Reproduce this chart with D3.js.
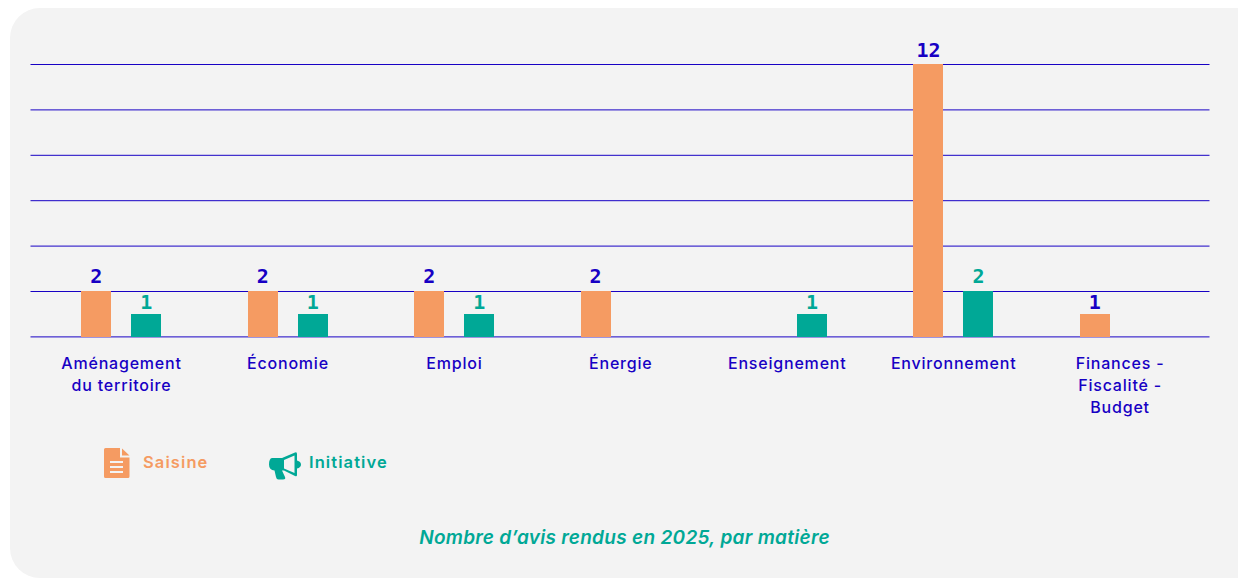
<!DOCTYPE html>
<html>
<head>
<meta charset="utf-8">
<script src="https://cdn.jsdelivr.net/npm/d3@7"></script>
<style>
  html, body { margin: 0; padding: 0; background: #fff; }
  svg { display: block; }
  text { font-family: Inter, sans-serif; }
</style>
</head>
<body>
<div id="chart-area"></div>
<script>
const categories = ["Aménagement du territoire", "Économie", "Emploi", "Énergie", "Enseignement", "Environnement", "Finances - Fiscalité - Budget"]
const categoryLines = [["Aménagement", "du territoire"], ["Économie"], ["Emploi"], ["Énergie"], ["Enseignement"], ["Environnement"], ["Finances -", "Fiscalité -", "Budget"]]
const seriesNames = ["Saisine", "Initiative"]
const saisine = [2, 2, 2, 2, 0, 12, 1]
const initiative = [1, 1, 1, 0, 1, 2, 0]
const gridTicks = [0, 2, 4, 6, 8, 10, 12]
const chartTitle = "Nombre d’avis rendus en 2025, par matière"

const blue = "#1700C4"
const orange = "#F59B62"
const teal = "#00A896"
const panel = "#F3F3F3"
const seriesColors = { Saisine: orange, Initiative: teal }
const seriesValues = { Saisine: saisine, Initiative: initiative }

const width = 1238
const height = 578

const svg = d3.select("#chart-area").append("svg")
  .attr("width", width)
  .attr("height", height)

svg.append("rect")
  .attr("x", 10)
  .attr("y", 8)
  .attr("width", width - 10 + 30)
  .attr("height", height - 8)
  .attr("rx", 30)
  .attr("fill", panel)

const x = d3.scaleBand()
  .domain(categories)
  .range([38.3, 1203.3])

const xSeries = d3.scaleBand()
  .domain(seriesNames)
  .range([43, 123])
  .paddingInner(0.4)

const y = d3.scaleLinear()
  .domain([0, 12])
  .range([336.4, 64])

// gridlines
const grid = svg.append("g")
  .attr("transform", "translate(30.5, 0)")
  .call(d3.axisRight(y).tickValues(gridTicks).tickSize(1179).tickFormat(""))
grid.select(".domain").remove()
grid.selectAll("line")
  .attr("stroke", blue)
  .attr("stroke-width", 1)

// bars
seriesNames.forEach(name => {
  const rows = categories.map((c, i) => ({ category: c, value: seriesValues[name][i] }))
    .filter(d => d.value > 0)

  svg.append("g").selectAll("rect")
    .data(rows)
    .enter().append("rect")
    .attr("x", d => x(d.category) + xSeries(name))
    .attr("y", d => y(d.value))
    .attr("width", xSeries.bandwidth())
    .attr("height", d => y(0) - y(d.value) + 1)
    .attr("shape-rendering", "crispEdges")
    .attr("fill", seriesColors[name])

  // the labels do not sit at the same distance from their bar in the original
  svg.append("g").selectAll("text")
    .data(rows)
    .enter().append("text")
    .attr("x", d => x(d.category) + xSeries(name) + xSeries.bandwidth() / 2)
    .attr("y", d => y(d.value) - (d.value === 1 ? 5 : d.value === 2 ? 8 : 7))
    .attr("text-anchor", "middle")
    .attr("font-size", "20px")
    .attr("font-weight", 700)
    .style("font-family", "'DejaVu Sans Mono', monospace")
    .attr("fill", name === "Saisine" ? blue : teal)
    .text(d => d.value)
})

// category labels
const xAxis = svg.append("g")
  .attr("transform", "translate(0, 336)")
  .call(d3.axisBottom(x).tickSize(0).tickFormat(""))
xAxis.select(".domain").remove()
xAxis.selectAll(".tick text")
  .attr("y", 0)
  .attr("fill", blue)
  .attr("font-size", "16px")
  .attr("font-weight", 500)
  .attr("letter-spacing", "0.8px")
  .each(function(d, i) {
    d3.select(this).selectAll("tspan")
      .data(categoryLines[i])
      .enter().append("tspan")
      .attr("x", 0)
      .attr("y", (l, k) => 33 + k * 22)
      .text(l => l)
  })
  .attr("dy", null)

// legend
const legend = svg.append("g")

const doc = legend.append("g").attr("transform", "translate(104, 448)")
doc.append("path")
  .attr("d", "M1.5 0H16V9.5H25.5V28.5a1.5 1.5 0 0 1-1.5 1.5H1.5A1.5 1.5 0 0 1 0 28.5V1.5A1.5 1.5 0 0 1 1.5 0Z")
  .attr("fill", orange)
doc.append("path").attr("d", "M18 0.5L25.5 7.5H18Z").attr("fill", orange)
doc.append("path")
  .attr("d", "M6 14H19M6 19H19M6 24H19")
  .attr("stroke", panel)
  .attr("stroke-width", 2)

legend.append("text")
  .attr("x", 143)
  .attr("y", 468)
  .attr("fill", orange)
  .attr("font-size", "16.5px")
  .attr("font-weight", 600)
  .attr("letter-spacing", "1.1px")
  .text("Saisine")

const horn = legend.append("g").attr("transform", "translate(269, 452)").attr("fill", teal)
horn.append("path")
  .attr("d", "M3 6H13L26 0.5Q28 -0.5 28 2V8.5Q32 9.5 32 12.5Q32 15.5 28 16.5V23Q28 25 26 24L15 18.5H13L16 25Q17 27.5 14 27.5H9.5Q7.5 27.5 7 25L5.5 18.5Q0 18 0 12.5Q0 6.5 3 6Z")
horn.append("path")
  .attr("d", "M15 8L25.5 3.5V21L15 16.5Z")
  .attr("fill", panel)

legend.append("text")
  .attr("x", 309)
  .attr("y", 468)
  .attr("fill", teal)
  .attr("font-size", "16.5px")
  .attr("font-weight", 600)
  .attr("letter-spacing", "1.1px")
  .text("Initiative")

svg.append("text")
  .attr("x", 624.5)
  .attr("y", 544)
  .attr("text-anchor", "middle")
  .attr("fill", teal)
  .attr("font-size", "19px")
  .attr("font-weight", 600)
  .attr("font-style", "italic")
  .attr("letter-spacing", "0.3px")
  .text(chartTitle)
</script>
</body>
</html>
